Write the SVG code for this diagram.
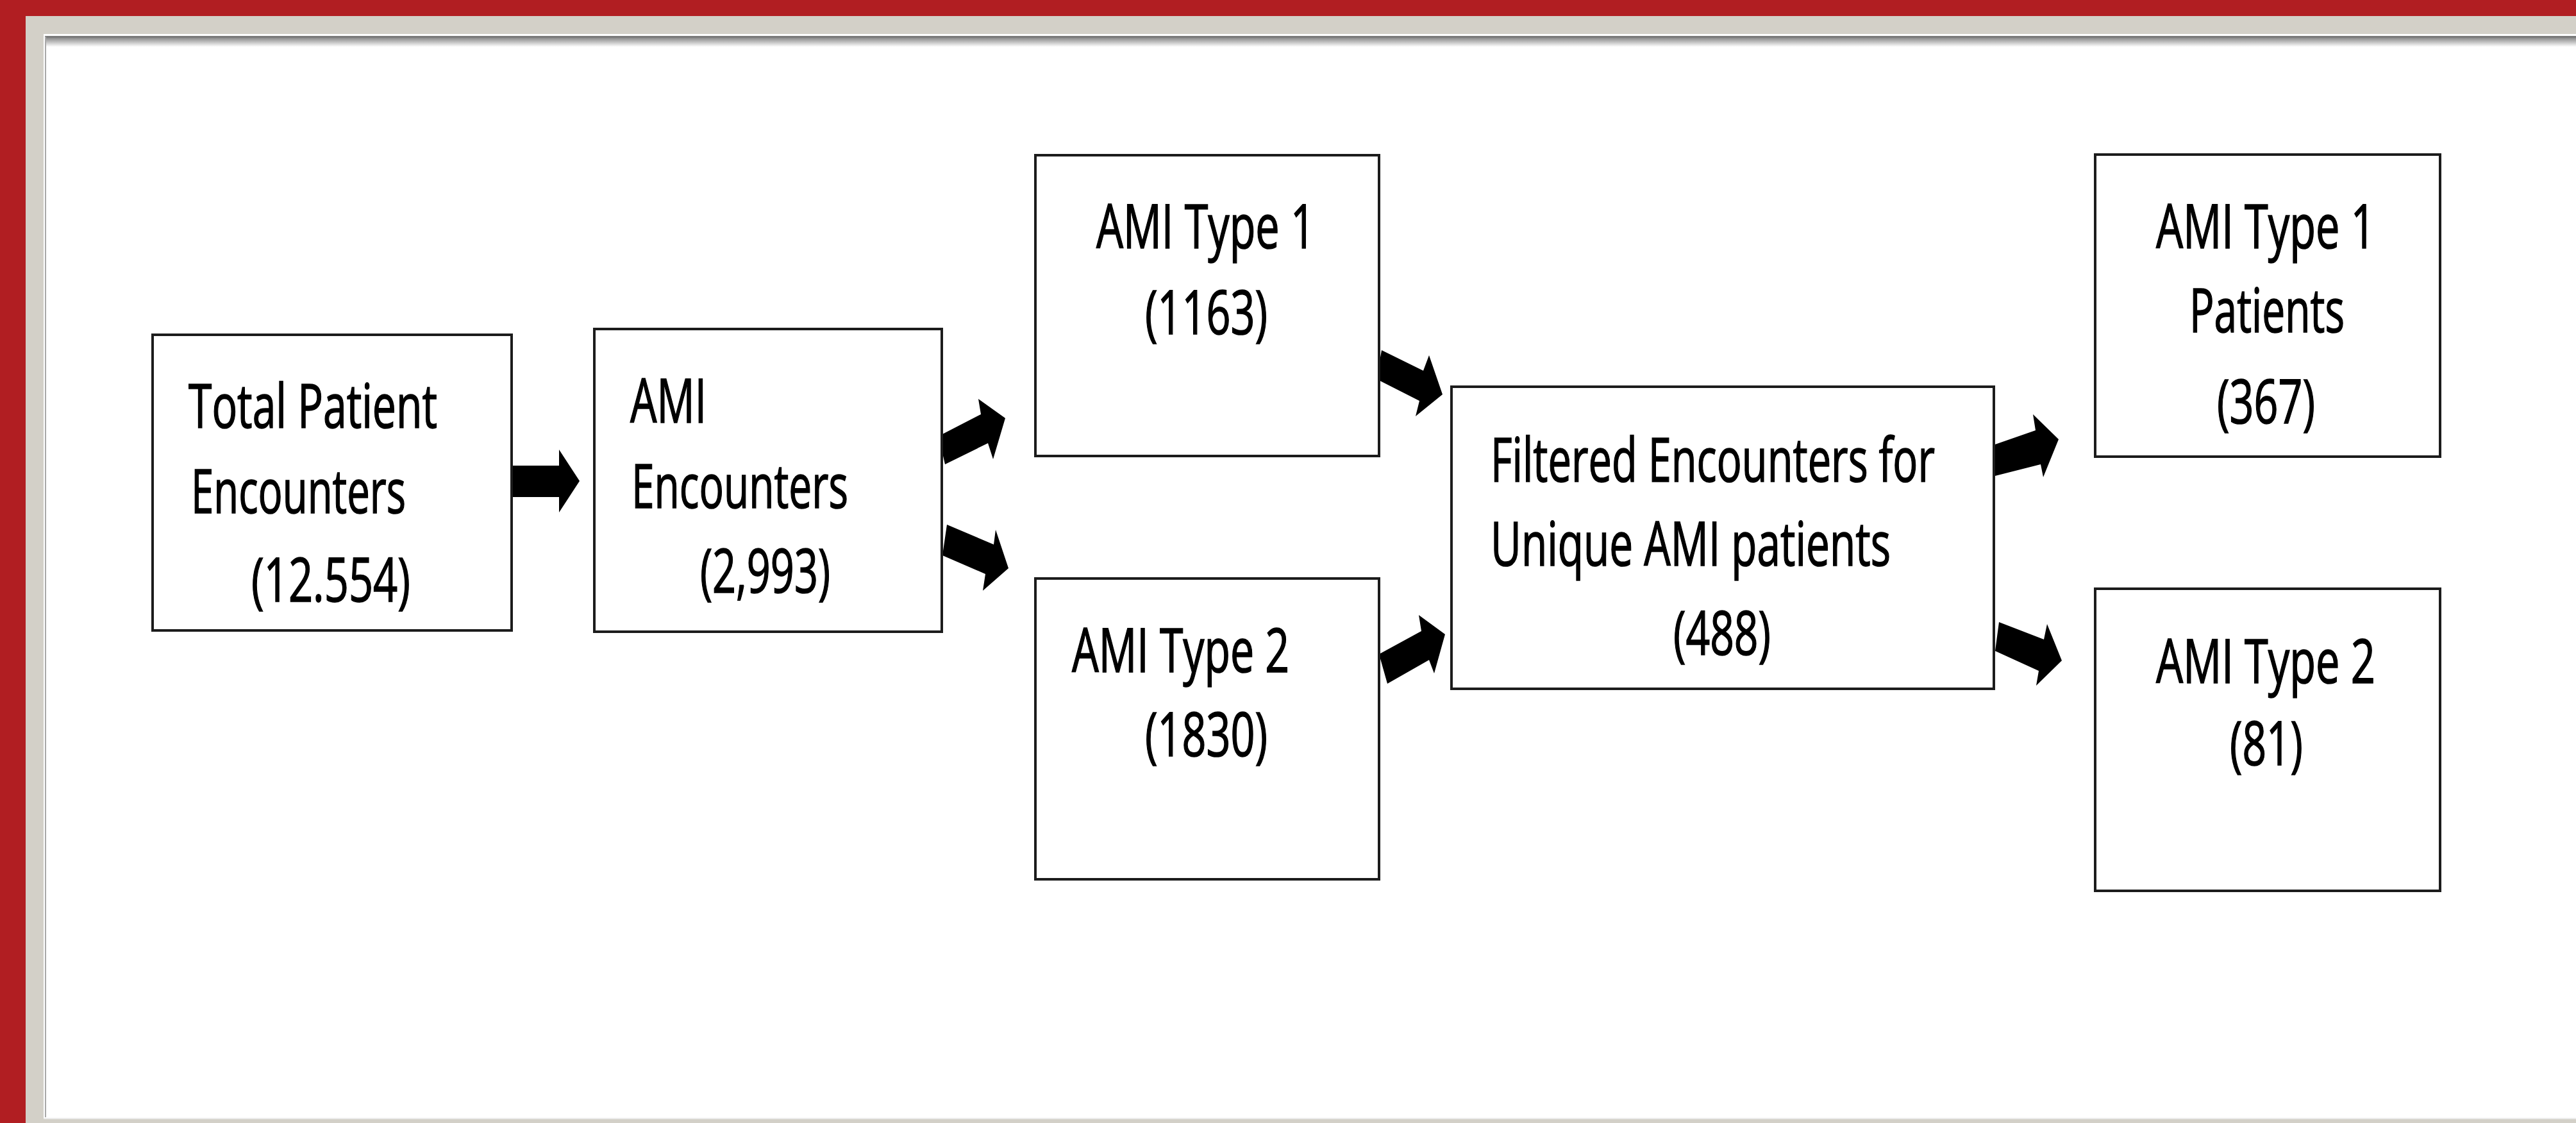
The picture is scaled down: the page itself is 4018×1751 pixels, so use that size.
<svg xmlns="http://www.w3.org/2000/svg" width="4018" height="1751" viewBox="0 0 4018 1751">
<defs>
<linearGradient id="shadow" x1="0" y1="0" x2="0" y2="1">
<stop offset="0" stop-color="#8a8a8a"/>
<stop offset="1" stop-color="#ffffff"/>
</linearGradient>
<style>
.box{fill:#ffffff;stroke:#1c1c1c;stroke-width:4}
.t{font-family:"Open Sans","Liberation Sans",sans-serif;font-size:95px;fill:#000000;stroke:#000000;stroke-width:1.6}
.arrow{fill:#000000}
</style>
</defs>
<g id="frame">
<rect x="0" y="0" width="4018" height="1751" fill="#b11e22"/>
<rect x="40" y="25" width="3978" height="1726" fill="#d3d0c8"/>
<rect x="68" y="53" width="3950" height="1691" fill="#ffffff"/>
<rect x="70" y="56" width="3948" height="3" fill="#7a7a7a"/>
<rect x="70" y="59" width="3948" height="14" fill="url(#shadow)"/>
<line x1="71" y1="57" x2="71" y2="1742" stroke="#a9a9a9" stroke-width="2"/>
<line x1="68" y1="1744" x2="4018" y2="1744" stroke="#ececec" stroke-width="2"/>
</g>
<g id="connectors">
<polygon class="arrow" points="798,726 872,726 872,701 904,750 872,799 872,775 798,775"/>
<polygon class="arrow" points="1464,680 1530,646 1526,622 1568,652 1549,716 1541,691 1474,724"/>
<polygon class="arrow" points="1477,818 1550,849 1553,826 1573,886 1533,921 1537,895 1470,866"/>
<polygon class="arrow" points="2155,546 2220,578 2229,554 2250,615 2208,649 2214,625 2147,591"/>
<polygon class="arrow" points="2151,1020 2217,984 2213,959 2254,989 2237,1050 2229,1029 2164,1066"/>
<polygon class="arrow" points="3106,695 3175,671 3171,646 3211,685 3187,744 3183,724 3112,742"/>
<polygon class="arrow" points="3118,970 3188,997 3193,973 3216,1030 3176,1069 3180,1046 3112,1015"/>
</g>
<g id="node-total">
<rect class="box" x="238" y="522" width="560" height="461"/>
<text class="t" x="294" y="667" textLength="388" lengthAdjust="spacingAndGlyphs">Total Patient</text>
<text class="t" x="298" y="800" textLength="335" lengthAdjust="spacingAndGlyphs">Encounters</text>
<text class="t" x="392" y="938" textLength="248" lengthAdjust="spacingAndGlyphs">(12.554)</text>
</g>
<g id="node-ami">
<rect class="box" x="927" y="513" width="542" height="472"/>
<text class="t" x="983" y="659" textLength="119" lengthAdjust="spacingAndGlyphs">AMI</text>
<text class="t" x="985" y="792" textLength="338" lengthAdjust="spacingAndGlyphs">Encounters</text>
<text class="t" x="1092" y="924" textLength="203" lengthAdjust="spacingAndGlyphs">(2,993)</text>
</g>
<g id="node-type1">
<rect class="box" x="1615" y="242" width="536" height="469"/>
<text class="t" x="1710" y="387" textLength="341" lengthAdjust="spacingAndGlyphs">AMI Type 1</text>
<text class="t" x="1786" y="521" textLength="191" lengthAdjust="spacingAndGlyphs">(1163)</text>
</g>
<g id="node-type2">
<rect class="box" x="1615" y="902" width="536" height="469"/>
<text class="t" x="1672" y="1048" textLength="339" lengthAdjust="spacingAndGlyphs">AMI Type 2</text>
<text class="t" x="1786" y="1179" textLength="191" lengthAdjust="spacingAndGlyphs">(1830)</text>
</g>
<g id="node-filtered">
<rect class="box" x="2264" y="603" width="846" height="471"/>
<text class="t" x="2325" y="751" textLength="693" lengthAdjust="spacingAndGlyphs">Filtered Encounters for</text>
<text class="t" x="2325" y="882" textLength="624" lengthAdjust="spacingAndGlyphs">Unique AMI patients</text>
<text class="t" x="2610" y="1021" textLength="152" lengthAdjust="spacingAndGlyphs">(488)</text>
</g>
<g id="node-type1-patients">
<rect class="box" x="3268" y="241" width="538" height="471"/>
<text class="t" x="3363" y="387" textLength="342" lengthAdjust="spacingAndGlyphs">AMI Type 1</text>
<text class="t" x="3415" y="518" textLength="242" lengthAdjust="spacingAndGlyphs">Patients</text>
<text class="t" x="3458" y="660" textLength="153" lengthAdjust="spacingAndGlyphs">(367)</text>
</g>
<g id="node-type2-patients">
<rect class="box" x="3268" y="918" width="538" height="471"/>
<text class="t" x="3363" y="1065" textLength="342" lengthAdjust="spacingAndGlyphs">AMI Type 2</text>
<text class="t" x="3478" y="1193" textLength="114" lengthAdjust="spacingAndGlyphs">(81)</text>
</g>
</svg>
